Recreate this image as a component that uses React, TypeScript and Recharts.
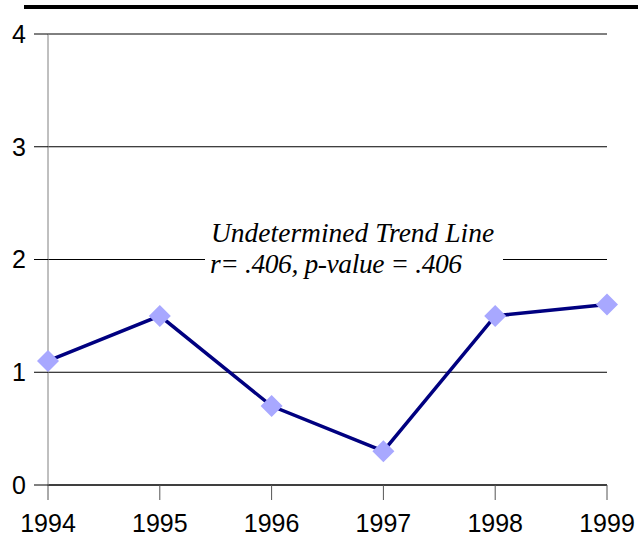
import { LineChart, Line, XAxis, YAxis, CartesianGrid } from "recharts";

const YEARS = ["1994", "1995", "1996", "1997", "1998", "1999"];
const VALUES = [1.1, 1.5, 0.7, 0.3, 1.5, 1.6];
const Y_TICKS = [0, 1, 2, 3, 4];
const NOTE = ["Undetermined Trend Line", "r= .406, p-value = .406"];

const rows = YEARS.map((year, i) => ({ year, value: VALUES[i] }));

const AXIS_FONT = { fontFamily: "Arial, 'Liberation Sans', sans-serif", fontSize: 25, fill: "#000" };

function Diamond({ cx, cy }: { cx?: number; cy?: number }) {
  if (cx == null || cy == null) return null;
  const r = 11;
  return <path d={`M${cx},${cy - r}L${cx + r},${cy}L${cx},${cy + r}L${cx - r},${cy}Z`} fill="#a8a8ff" />;
}

export default function App() {
  return (
    <div style={{ position: "absolute", left: 0, top: 0, width: 638, height: 537, background: "#fff" }}>
      <div style={{ position: "absolute", left: 24, top: 5, width: 614, height: 4, background: "#000" }} />
      <LineChart width={638} height={537} data={rows} margin={{ top: 34, right: 31, bottom: 0, left: 0 }}>
        <CartesianGrid vertical={false} stroke="#000" strokeOpacity={1} />
        <XAxis dataKey="year" height={52} padding={{ left: 0, right: 0 }} tick={AXIS_FONT} tickSize={15} tickMargin={14}
          axisLine={{ stroke: "#000" }} tickLine={{ stroke: "#555" }} interval={0} />
        <YAxis domain={[0, 4]} ticks={Y_TICKS} width={48} tick={AXIS_FONT} tickSize={14} tickMargin={8}
          axisLine={{ stroke: "#808080" }} tickLine={{ stroke: "#000" }} />
        <Line dataKey="value" stroke="#000080" strokeWidth={3.5} dot={<Diamond />} activeDot={false} isAnimationActive={false} />
      </LineChart>
      <div style={{
        position: "absolute", left: 205, top: 215, width: 298, height: 66, background: "#fff",
        fontFamily: "'Liberation Serif', 'Times New Roman', serif", fontStyle: "italic", fontSize: 27.5, lineHeight: "31px",
      }}>
        <div style={{ paddingLeft: 6, paddingTop: 2 }}>{NOTE[0]}</div>
        <div style={{ paddingLeft: 5, letterSpacing: "-0.4px" }}>{NOTE[1]}</div>
      </div>
    </div>
  );
}
